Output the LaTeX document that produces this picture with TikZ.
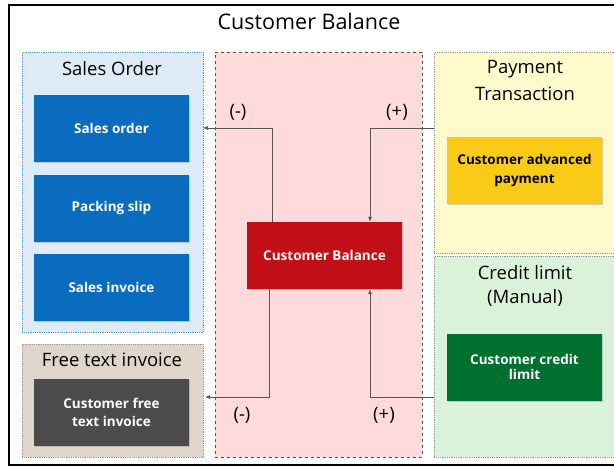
\documentclass[tikz,border=0pt]{standalone}
\usepackage{fontspec}
\setmainfont{Open Sans}
\usetikzlibrary{arrows.meta,shadows}
\definecolor{salesfill}{HTML}{DDEBF7}
\definecolor{salesline}{HTML}{5B9BD5}
\definecolor{bluebox}{HTML}{0A6CBE}
\definecolor{beigefill}{HTML}{E0D5CA}
\definecolor{darkbox}{HTML}{4B4B4B}
\definecolor{pinkfill}{HTML}{FFDADA}
\definecolor{redbox}{HTML}{C20F17}
\definecolor{yellowfill}{HTML}{FFFACC}
\definecolor{yellowbox}{HTML}{F9CB17}
\definecolor{greenfill}{HTML}{D9F2D9}
\definecolor{greenbox}{HTML}{00702F}
\definecolor{panelline}{HTML}{9A9A9A}
\definecolor{arrowline}{HTML}{555555}
\tikzset{
  panel/.style={draw=panelline, densely dotted, line width=0.8pt, inner sep=0pt, anchor=north west},
  boxnode/.style={minimum width=155pt, minimum height=67pt, inner sep=2pt, align=center,
    font=\fontsize{13.5}{16}\selectfont\bfseries, text=white,
    drop shadow={opacity=0.35, shadow xshift=1pt, shadow yshift=-1pt}},
  ptitle/.style={font=\fontsize{18.5}{22}\selectfont, text=black, inner sep=0pt},
  sign/.style={font=\fontsize{18.5}{22}\selectfont, text=black, inner sep=0pt},
  arr/.style={draw=arrowline, line width=0.7pt, -{Latex[length=5pt,width=4pt]}},
}
\begin{document}
\begin{tikzpicture}[x=1pt,y=-1pt]
\clip (0,0) rectangle (614,466);
\fill[white] (0,0) rectangle (614,466);
% outer frame
\draw[black, line width=2pt] (630,4.5) -- (9,4.5) -- (9,464.5) -- (630,464.5);
\node[font=\fontsize{21.5}{26}\selectfont, inner sep=0pt] (title) at (309,21) {Customer Balance};
% panels
\node[panel, draw=salesline, fill=salesfill, minimum width=181pt, minimum height=280pt] (sales) at (22,52) {};
\node[panel, fill=beigefill, minimum width=181pt, minimum height=113pt] (free) at (22,344) {};
\node[panel, draw=arrowline, dashed, fill=pinkfill, minimum width=207pt, minimum height=405pt] (center) at (215,52) {};
\node[panel, fill=yellowfill, minimum width=200pt, minimum height=201pt] (pay) at (434,52) {};
\node[panel, fill=greenfill, minimum width=200pt, minimum height=201pt] (credit) at (434,256) {};
% panel titles
\node[ptitle] (t1) at (112,69) {Sales Order};
\node[ptitle] (t2) at (112,360) {Free text invoice};
\node[ptitle] (t3a) at (525,69) {Payment};
\node[ptitle] (t3b) at (525,94) {Transaction};
\node[ptitle] (t4a) at (525,273) {Credit limit};
\node[ptitle] (t4b) at (525,298) {(Manual)};
% boxes
\node[boxnode, fill=bluebox] (so) at (111.5,128.5) {Sales order};
\node[boxnode, fill=bluebox] (ps) at (111.5,208) {Packing slip};
\node[boxnode, fill=bluebox] (si) at (111.5,287) {Sales invoice};
\node[boxnode, fill=darkbox] (cfti) at (111.5,412.5) {Customer free\\[2pt]text invoice};
\node[boxnode, fill=redbox] (cb) at (324.5,255.5) {Customer Balance};
\node[boxnode, fill=yellowbox, text=black] (cap) at (524.5,170) {Customer advanced\\[3pt]payment};
\node[boxnode, fill=greenbox] (ccl) at (524.5,367) {Customer credit\\[-1pt]limit};
% connectors
\coordinate (a1) at (203,128);
\coordinate (c1) at (205,397);
\draw[arr] ([xshift=-52.5pt]cb.north) |- (a1);
\draw[arr] (pay.west |- a1) -| ([xshift=45.5pt]cb.north);
\draw[arr] ([xshift=-55.5pt]cb.south) |- (c1);
\draw[arr] (credit.west |- c1) -| ([xshift=45.5pt]cb.south);
% signs
\node[sign] (s1) at (238,112) {(-)};
\node[sign] (s2) at (397,112) {(+)};
\node[sign] (s3) at (242,415) {(-)};
\node[sign] (s4) at (384,415) {(+)};
\end{tikzpicture}
\end{document}
